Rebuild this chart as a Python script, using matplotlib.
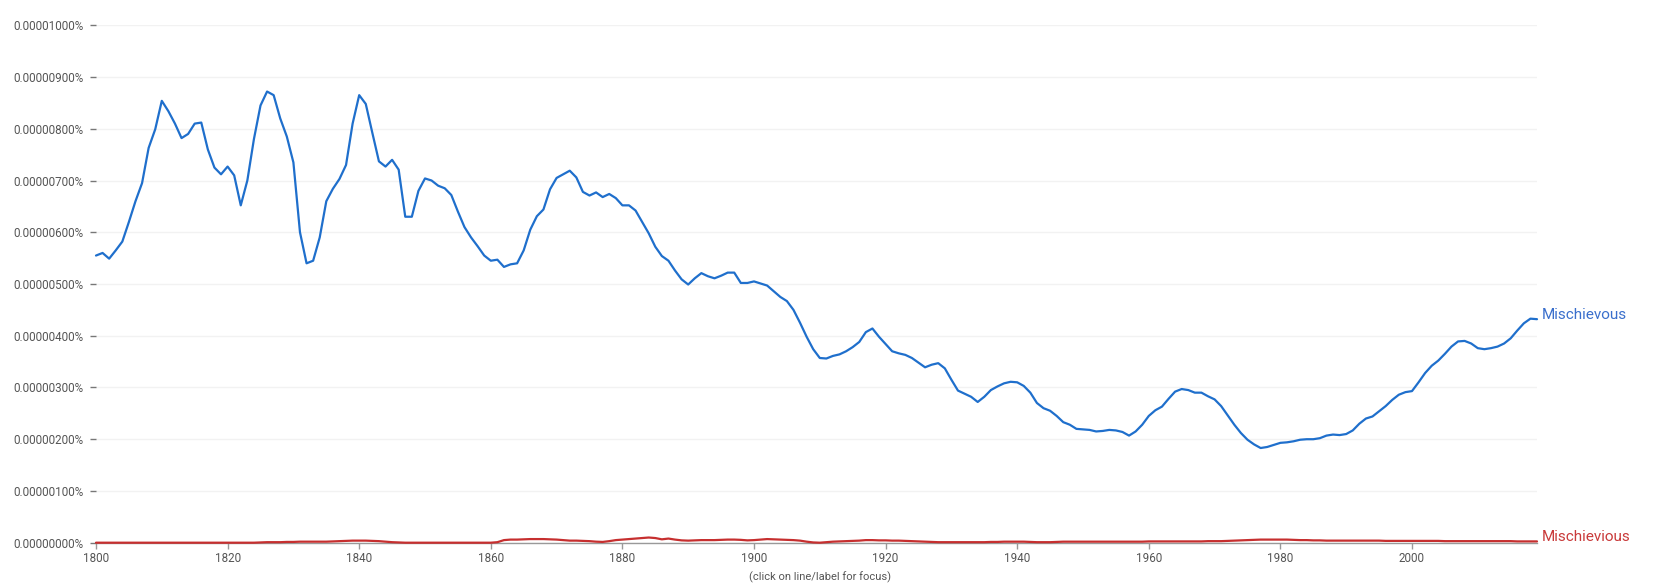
"""Google Books Ngram style chart: Mischievous vs Mischievious"""

import numpy as np
import matplotlib.pyplot as plt
from matplotlib.ticker import FuncFormatter

plt.rcParams['font.family'] = ['Roboto', 'DejaVu Sans']

years = list(range(1800, 2020))

# values in units of 0.000001 %
mischievous = [
    5.55, 5.60, 5.49, 5.65, 5.82, 6.20, 6.60, 6.95, 7.63, 7.99,
    8.54, 8.34, 8.10, 7.82, 7.90, 8.10, 8.12, 7.60, 7.25, 7.12,
    7.27, 7.10, 6.52, 7.00, 7.80, 8.45, 8.72, 8.65, 8.20, 7.85,
    7.35, 6.00, 5.40, 5.45, 5.90, 6.60, 6.84, 7.03, 7.30, 8.10,
    8.65, 8.48, 7.92, 7.37, 7.27, 7.40, 7.21, 6.30, 6.30, 6.80,
    7.04, 7.00, 6.90, 6.85, 6.72, 6.40, 6.10, 5.90, 5.73, 5.55,
    5.45, 5.47, 5.33, 5.38, 5.40, 5.65, 6.05, 6.31, 6.44, 6.83,
    7.05, 7.12, 7.19, 7.06, 6.78, 6.71, 6.77, 6.68, 6.74, 6.66,
    6.52, 6.52, 6.42, 6.20, 5.98, 5.72, 5.54, 5.45, 5.26, 5.09,
    4.99, 5.11, 5.21, 5.15, 5.11, 5.16, 5.22, 5.22, 5.02, 5.02,
    5.05, 5.01, 4.97, 4.86, 4.75, 4.67, 4.50, 4.25, 3.98, 3.74,
    3.57, 3.56, 3.61, 3.64, 3.70, 3.78, 3.88, 4.07, 4.14, 3.98,
    3.84, 3.70, 3.66, 3.63, 3.57, 3.48, 3.39, 3.44, 3.47, 3.37,
    3.15, 2.94, 2.88, 2.82, 2.72, 2.82, 2.95, 3.02, 3.08, 3.11,
    3.10, 3.03, 2.90, 2.70, 2.60, 2.55, 2.45, 2.33, 2.28, 2.20,
    2.19, 2.18, 2.15, 2.16, 2.18, 2.17, 2.14, 2.07, 2.15, 2.28,
    2.45, 2.56, 2.63, 2.78, 2.92, 2.97, 2.95, 2.90, 2.90, 2.83,
    2.77, 2.64, 2.46, 2.28, 2.12, 1.99, 1.90, 1.83, 1.85, 1.89,
    1.93, 1.94, 1.96, 1.99, 2.00, 2.00, 2.02, 2.07, 2.09, 2.08,
    2.10, 2.17, 2.30, 2.40, 2.44, 2.54, 2.64, 2.76, 2.86, 2.91,
    2.93, 3.10, 3.28, 3.42, 3.52, 3.65, 3.79, 3.89, 3.90, 3.85,
    3.76, 3.74, 3.76, 3.79, 3.85, 3.95, 4.10, 4.24, 4.33, 4.32,
]

mischievious = [
    0.00, 0.00, 0.00, 0.00, 0.00, 0.00, 0.00, 0.00, 0.00, 0.00,
    0.00, 0.00, 0.00, 0.00, 0.00, 0.00, 0.00, 0.00, 0.00, 0.00,
    0.00, 0.00, 0.00, 0.00, 0.00, 0.005, 0.01, 0.01, 0.01, 0.015,
    0.015, 0.02, 0.02, 0.02, 0.02, 0.02, 0.025, 0.03, 0.035, 0.04,
    0.04, 0.04, 0.035, 0.03, 0.02, 0.01, 0.005, 0.00, 0.00, 0.00,
    0.00, 0.00, 0.00, 0.00, 0.00, 0.00, 0.00, 0.00, 0.00, 0.00,
    0.00, 0.01, 0.05, 0.06, 0.06, 0.065, 0.07, 0.07, 0.07, 0.065,
    0.06, 0.05, 0.04, 0.04, 0.035, 0.03, 0.02, 0.015, 0.03, 0.05,
    0.06, 0.07, 0.08, 0.09, 0.10, 0.09, 0.065, 0.08, 0.06, 0.045,
    0.04, 0.045, 0.05, 0.05, 0.05, 0.055, 0.06, 0.06, 0.055, 0.045,
    0.05, 0.06, 0.07, 0.065, 0.06, 0.055, 0.05, 0.04, 0.02, 0.005,
    0.00, 0.01, 0.02, 0.025, 0.03, 0.035, 0.04, 0.05, 0.05, 0.045,
    0.045, 0.04, 0.04, 0.035, 0.03, 0.025, 0.02, 0.015, 0.01, 0.01,
    0.01, 0.01, 0.01, 0.01, 0.01, 0.01, 0.015, 0.015, 0.02, 0.02,
    0.02, 0.02, 0.015, 0.01, 0.01, 0.01, 0.015, 0.02, 0.02, 0.02,
    0.02, 0.02, 0.02, 0.02, 0.02, 0.02, 0.02, 0.02, 0.02, 0.02,
    0.025, 0.025, 0.025, 0.025, 0.025, 0.025, 0.025, 0.025, 0.025, 0.03,
    0.03, 0.03, 0.035, 0.04, 0.045, 0.05, 0.055, 0.06, 0.06, 0.06,
    0.06, 0.06, 0.055, 0.05, 0.05, 0.045, 0.045, 0.04, 0.04, 0.04,
    0.04, 0.04, 0.04, 0.04, 0.04, 0.04, 0.035, 0.035, 0.035, 0.035,
    0.035, 0.035, 0.035, 0.035, 0.035, 0.03, 0.03, 0.03, 0.03, 0.03,
    0.03, 0.03, 0.03, 0.03, 0.03, 0.03, 0.025, 0.025, 0.025, 0.025,
]

series = [
    ('Mischievous', mischievous, '#1f6fcc', '#3a6fcc'),
    ('Mischievious', mischievious, '#c62f2f', '#c93a3a'),
]


def plot_ngram():
    fig = plt.figure(figsize=(16.58, 5.84), dpi=100)
    ax = fig.add_axes([96 / 1658, 41.3 / 584, (1537 - 96) / 1658, 517.4 / 584])

    for name, vals, color, label_color in series:
        ax.plot(years, vals, color=color, linewidth=1.6, clip_on=False,
                solid_capstyle='round', zorder=3)
        ax.annotate(name, xy=(years[-1], vals[-1]), xytext=(5, 4),
                    textcoords='offset pixels', va='center', ha='left',
                    color=label_color, fontsize=11, annotation_clip=False)

    ax.set_xlim(1800, 2019)
    ax.set_ylim(0, 10)
    ax.set_xticks(range(1800, 2020, 20))
    ax.set_yticks(np.arange(0, 11, 1))
    ax.yaxis.set_major_formatter(FuncFormatter(lambda v, _: f"{v / 1e6:.8f}%"))

    ax.grid(axis='y', color='#f2f2f2', linewidth=1)
    ax.set_axisbelow(True)
    for side in ['top', 'right', 'left']:
        ax.spines[side].set_visible(False)
    ax.spines['bottom'].set_color('#999999')
    ax.spines['bottom'].set_linewidth(1)

    ax.tick_params(axis='y', length=4, width=1, color='#777777', pad=5,
                   labelsize=8.4, labelcolor='#555555')
    ax.tick_params(axis='x', length=4, width=1, color='#999999', pad=3,
                   labelsize=8.4, labelcolor='#555555')

    fig.text(820 / 1658, 1 / 584, '(click on line/label for focus)',
             ha='center', va='bottom', fontsize=8, color='#555555')

    fig.savefig('out.png', dpi=100, facecolor='white')


if __name__ == '__main__':
    plot_ngram()
